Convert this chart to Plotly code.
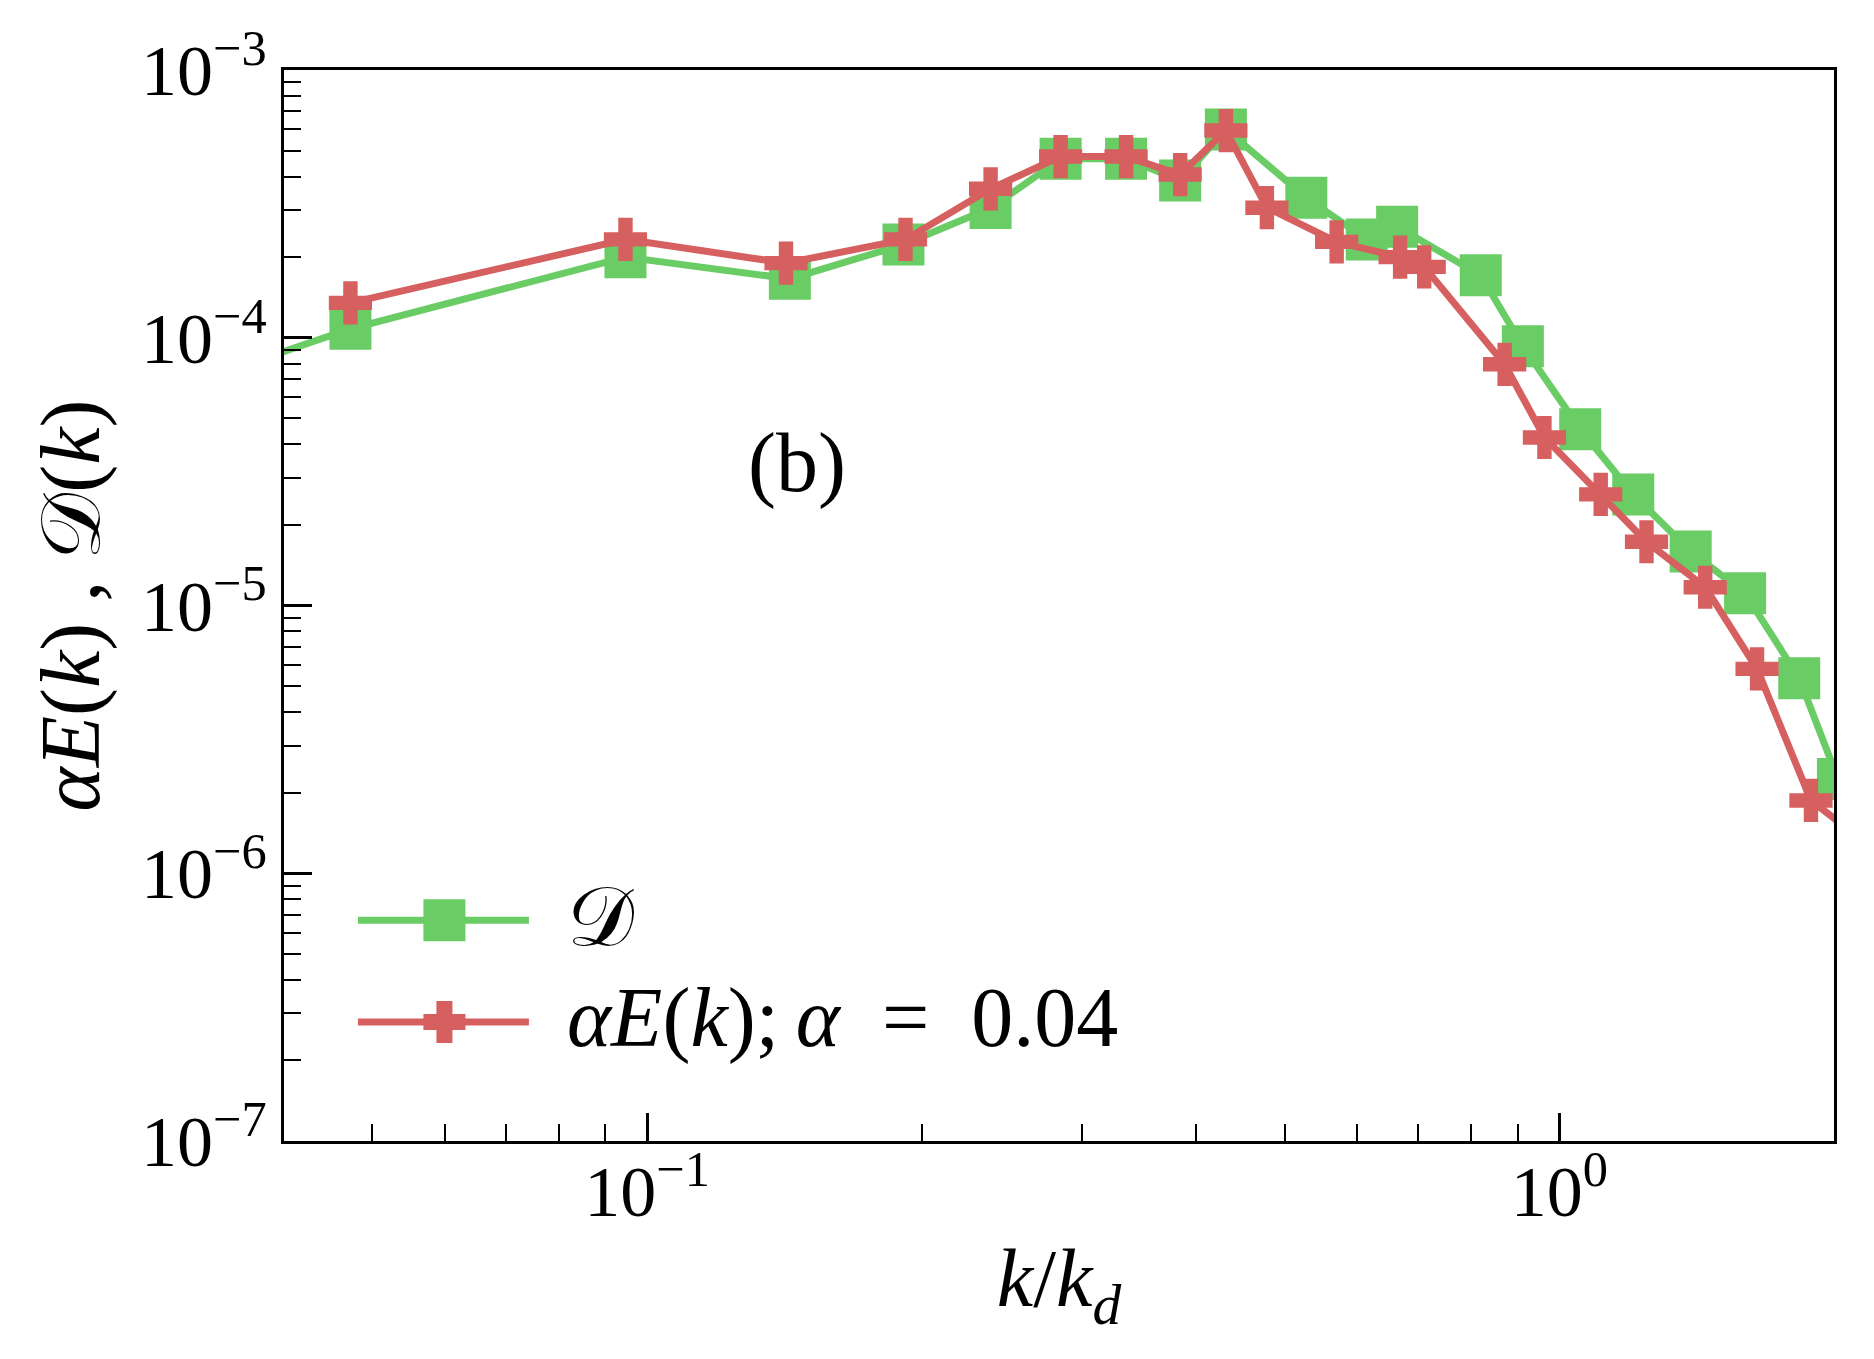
import plotly.graph_objects as go
import numpy as np

# dissipation spectrum D(k) and scaled energy spectrum alpha*E(k)
k_D = [0.0236, 0.0473, 0.0947, 0.1434, 0.191, 0.238, 0.284, 0.335, 0.384, 0.431,
       0.528, 0.615, 0.664, 0.820, 0.912, 1.054, 1.205, 1.393, 1.598, 1.832, 2.02]
D_vals = [4.8e-5, 1.08e-4, 2.0e-4, 1.66e-4, 2.23e-4, 3.05e-4, 4.66e-4, 4.66e-4, 3.87e-4, 6.0e-4,
          3.33e-4, 2.33e-4, 2.6e-4, 1.71e-4, 9.3e-5, 4.55e-5, 2.6e-5, 1.59e-5, 1.11e-5, 5.35e-6, 2.25e-6]

k_E = [0.0473, 0.0947, 0.142, 0.192, 0.238, 0.284, 0.335, 0.384, 0.431, 0.478,
       0.570, 0.669, 0.711, 0.871, 0.963, 1.110, 1.246, 1.445, 1.647, 1.887, 2.2]
E_vals = [1.35e-4, 2.33e-4, 1.90e-4, 2.33e-4, 3.6e-4, 4.75e-4, 4.75e-4, 4.07e-4, 5.94e-4, 3.06e-4,
          2.28e-4, 2.0e-4, 1.84e-4, 7.96e-5, 4.24e-5, 2.6e-5, 1.73e-5, 1.17e-5, 5.8e-6, 1.87e-6, 1.25e-6]

x_ticks = [0.1, 1]
x_labels = ["10<sup>\u22121</sup>", "10<sup>0</sup>"]
y_ticks = [1e-7, 1e-6, 1e-5, 1e-4, 1e-3]
y_labels = ["10<sup>\u2212%d</sup>" % n for n in [7, 6, 5, 4, 3]]

GREEN = '#6acc64'
RED = '#d65f5f'
FONT = "Liberation Serif"

fig = go.Figure()

fig.add_trace(go.Scatter(
    x=k_D, y=D_vals, mode='lines+markers', name='D',
    line=dict(color=GREEN, width=7),
    marker=dict(symbol='square', size=42, color=GREEN, line=dict(width=0)),
    showlegend=False
))
fig.add_trace(go.Scatter(
    x=k_E, y=E_vals, mode='lines+markers', name='aE',
    line=dict(color=RED, width=7),
    marker=dict(symbol='cross', size=36, color=RED, line=dict(width=0)),
    showlegend=False
))

axis_common = dict(
    type='log', showgrid=False, zeroline=False,
    showline=True, linecolor='black', linewidth=3, mirror=True,
    ticks='inside', ticklen=28, tickwidth=3, tickcolor='black',
    tickfont=dict(family=FONT, size=72, color='black'),
)

fig.update_xaxes(
    range=[np.log10(0.04), np.log10(2.0)],
    tickvals=x_ticks, ticktext=x_labels,
    ticklabelstandoff=-14,
    minor=dict(ticks='inside', ticklen=17, tickwidth=2, tickcolor='black',
               tickvals=[0.05, 0.06, 0.07, 0.08, 0.09, 0.2, 0.3, 0.4, 0.5,
                         0.6, 0.7, 0.8, 0.9, 2], showgrid=False),
    title=dict(text="<i>k</i>/<i>k</i><sub><i>d</i></sub>",
               font=dict(family=FONT, size=82, color='black'), standoff=18),
    **axis_common
)
minor_y = [m * 10.0 ** e for e in range(-7, -3) for m in range(2, 10)]
fig.update_yaxes(
    range=[-7, -3],
    tickvals=y_ticks, ticktext=y_labels,
    minor=dict(ticks='inside', ticklen=17, tickwidth=2, tickcolor='black',
               tickvals=minor_y, showgrid=False),
    title=dict(text="<i>\u03b1E</i>(<i>k</i>) , \U0001D49F(<i>k</i>)",
               font=dict(family=FONT, size=84, color='black'), standoff=14),
    **axis_common
)

# hand-drawn legend (long line samples like the original)
rows = [(0.206, GREEN, 'square', "\U0001D49F"),
        (0.111, RED, 'cross',
         "<i>\u03b1E</i>(<i>k</i>);\u2009<i>\u03b1</i>\u2002=\u20020.04")]
shapes = []
annotations = []
for yy, col, sym, label in rows:
    shapes.append(dict(type='line', xref='paper', yref='paper',
                       x0=0.0477, x1=0.158, y0=yy, y1=yy,
                       line=dict(color=col, width=7)))
    if sym == 'square':
        shapes.append(dict(type='rect', xref='paper', yref='paper',
                           xsizemode='pixel', ysizemode='pixel',
                           xanchor=0.1035, yanchor=yy,
                           x0=-21, x1=21, y0=-21, y1=21,
                           fillcolor=col, line=dict(width=0)))
    else:
        shapes.append(dict(type='path', xref='paper', yref='paper',
                           xsizemode='pixel', ysizemode='pixel',
                           xanchor=0.1035, yanchor=yy,
                           path="M-8,-21 H8 V-8 H21 V8 H8 V21 H-8 V8 H-21 V-8 H-8 Z",
                           fillcolor=col, line=dict(width=0)))
    annotations.append(dict(xref='paper', yref='paper', x=0.181, y=yy + 0.004,
                            xanchor='left', yanchor='middle', showarrow=False,
                            text=label, font=dict(family=FONT, size=84, color='black')))

annotations.append(dict(xref='paper', yref='paper', x=0.331, y=0.633,
                        xanchor='center', yanchor='middle', showarrow=False,
                        text="(b)", font=dict(family=FONT, size=84, color='black')))

# page has an 8px body margin, so the figure is a bit smaller than the window
fig.update_layout(
    width=1858, height=1343,
    margin=dict(l=276, r=32, t=55, b=210),
    plot_bgcolor='white', paper_bgcolor='white',
    shapes=shapes, annotations=annotations,
    showlegend=False
)

fig.write_html("out.html")
